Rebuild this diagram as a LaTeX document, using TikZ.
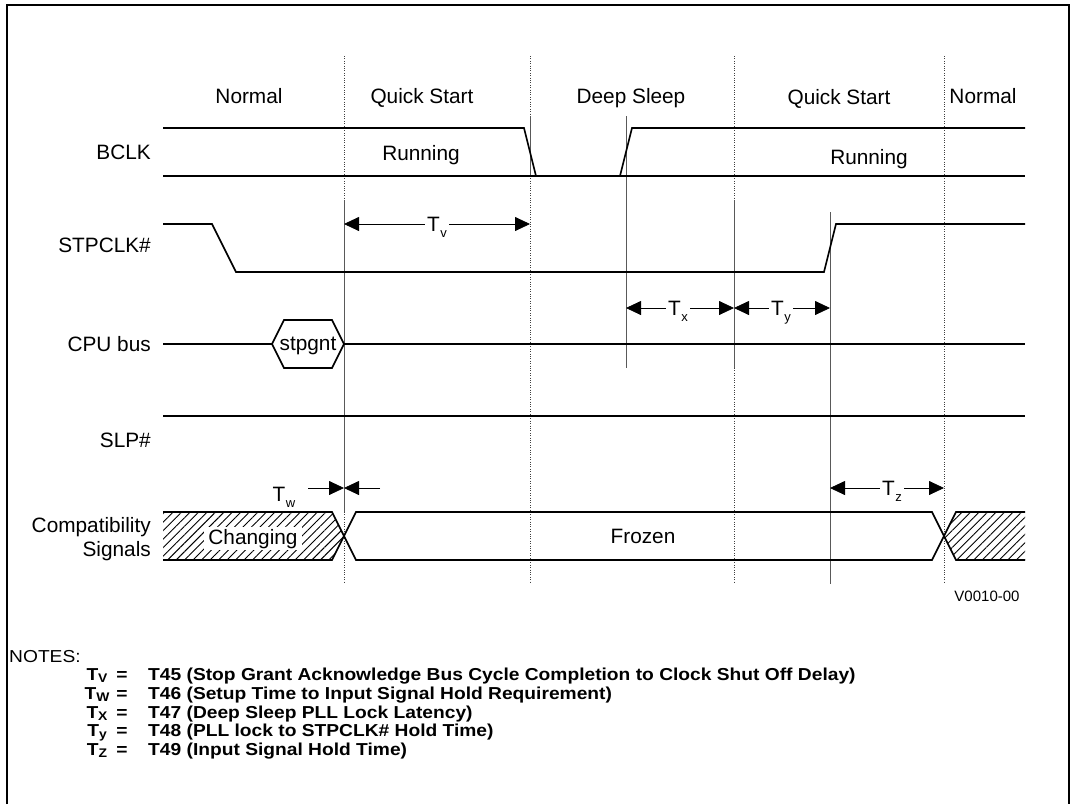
\documentclass[tikz,border=0pt]{standalone}
\usepackage{fontspec}
\setmainfont{Liberation Sans}
\newfontfamily\notesfont[FakeStretch=1.11]{Liberation Sans}
\usetikzlibrary{arrows.meta,patterns.meta}
\newcommand\Tsub[1]{T\kern0.5pt\raisebox{-6pt}{\fontsize{13}{13}\selectfont #1}}
\newcommand\Nsub[1]{T\raisebox{-2pt}{\fontsize{12.5}{13}\selectfont #1}}
\begin{document}
\begin{tikzpicture}[x=1pt,y=-1pt,
  lbl/.style={font=\fontsize{20.8}{25}\selectfont, inner sep=0pt},
  sig/.style={line width=1.6pt, line join=miter},
  guide/.style={draw=black!75, line width=0.9pt, dash pattern=on 1pt off 1.4pt},
  marker/.style={draw=black!65, line width=0.9pt},
  dim/.style={line width=0.8pt, {Triangle[length=15pt,width=14pt]}-{Triangle[length=15pt,width=14pt]}},
  dimto/.style={line width=0.8pt, -{Triangle[length=15pt,width=14pt]}},
  hatch/.style={pattern={Lines[angle=45,distance=6pt,line width=0.9pt]}},
  tlab/.style={lbl, fill=white, inner xsep=2pt, inner ysep=1pt},
  note/.style={font=\notesfont\fontsize{17.3}{20}\selectfont, inner sep=0pt, anchor=base west},
  noteb/.style={note, font=\notesfont\bfseries\fontsize{17.3}{20}\selectfont},
]
\useasboundingbox (0,0) rectangle (1074,804);
\fill[white] (0,0) rectangle (1074,804);
% frame
\draw[line width=2pt] (7,804) -- (7,5) -- (1069,5) -- (1069,804);

% hatched regions
\fill[hatch] (163,512) -- (332,512) -- (344,536) -- (332,560) -- (163,560) -- cycle;
\fill[hatch] (944,536) -- (956,512) -- (1025,512) -- (1025,560) -- (956,560) -- cycle;

% guide lines (dotted)
\foreach \gx in {344,530,734,944} \draw[guide] (\gx,56) -- (\gx,583);
% solid markers
\draw[marker] (344,200) -- (344,512);
\draw[marker] (530,116) -- (530,176);
\draw[marker] (626,116) -- (626,368);
\draw[marker] (734,200) -- (734,368);
\draw[marker] (830,212) -- (830,584);

% phase labels
\node[lbl, anchor=base] (ph1) at (249,103) {Normal};
\node[lbl, anchor=base] (ph2) at (422,103) {Quick Start};
\node[lbl, anchor=base] (ph3) at (631,103) {Deep Sleep};
\node[lbl, anchor=base] (ph4) at (839,104) {Quick Start};
\node[lbl, anchor=base] (ph5) at (983,103) {Normal};

% signal names
\node[lbl, anchor=base east] (sBCLK) at (151,159.5) {BCLK};
\node[lbl, anchor=base east] (sSTP) at (151,252) {STPCLK\#};
\node[lbl, anchor=base east] (sCPU) at (151,351) {CPU bus};
\node[lbl, anchor=base east] (sSLP) at (151,447) {SLP\#};
\node[lbl, anchor=base east] (sCMP) at (151,532) {Compatibility};
\node[lbl, anchor=base east] (sSIG) at (151,556) {Signals};

% BCLK
\draw[sig] (163,128) -- (524,128) -- (536,176);
\draw[sig] (620,176) -- (632,128) -- (1025,128);
\draw[sig] (163,176) -- (1025,176);
\node[lbl, anchor=base] (run1) at (421,160) {Running};
\node[lbl, anchor=base] (run2) at (869,164) {Running};

% STPCLK#
\draw[sig] (163,224) -- (212,224) -- (236,272) -- (824,272) -- (836,224) -- (1025,224);

% CPU bus
\draw[sig] (163,344) -- (272,344);
\draw[sig] (272,344) -- (284,320) -- (332,320) -- (344,344) -- (332,368) -- (284,368) -- cycle;
\draw[sig] (344,344) -- (1025,344);
\node[lbl, anchor=base] (stp) at (308,350) {stpgnt};

% SLP#
\draw[sig] (163,416) -- (1025,416);

% Compatibility signals
\draw[sig] (163,512) -- (332,512) -- (356,560) -- (932,560) -- (956,512) -- (1025,512);
\draw[sig] (163,560) -- (332,560) -- (356,512) -- (932,512) -- (956,560) -- (1025,560);
\node[lbl, anchor=base, fill=white, inner xsep=4pt, inner ysep=1.5pt] (chg) at (253,544) {Changing};
\node[lbl, anchor=base] (frz) at (643,543) {Frozen};

% dimension arrows
\coordinate (v1) at (344,224); \coordinate (v2) at (530,224);
\coordinate (x1) at (626,308); \coordinate (x2) at (734,308); \coordinate (y2) at (830,308);
\coordinate (w0) at (344,488); \coordinate (wl) at (308,488); \coordinate (wr) at (380,488);
\coordinate (z1) at (830,488); \coordinate (z2) at (944,488);
\draw[dim] (v1) -- (v2);
\draw[dim] (x1) -- (x2);
\draw[dim] (x2) -- (y2);
\draw[dim] (z1) -- (z2);
\draw[dimto] (wl) -- (w0);
\draw[dimto] (wr) -- (w0);
\node[tlab, anchor=base] (Tv) at (437,231) {\Tsub{v}};
\node[tlab, anchor=base] (Tx) at (678,315) {\Tsub{x}};
\node[tlab, anchor=base] (Ty) at (781,315) {\Tsub{y}};
\node[tlab, anchor=base] (Tz) at (892,495) {\Tsub{z}};
\node[lbl, anchor=base] (Tw) at (284,501) {\Tsub{w}};

\node[anchor=base, inner sep=0pt, font=\fontsize{15}{18}\selectfont] (ver) at (987,601) {V0010-00};

% notes
\node[note] (notes) at (9,662) {NOTES:};
\foreach \yy/\sb/\txt [count=\i] in {680/V/{T45 (Stop Grant Acknowledge Bus Cycle Completion to Clock Shut Off Delay)},
  699/W/{T46 (Setup Time to Input Signal Hold Requirement)},
  718/X/{T47 (Deep Sleep PLL Lock Latency)},
  736/y/{T48 (PLL lock to STPCLK\# Hold Time)},
  755/Z/{T49 (Input Signal Hold Time)}}{
  \node[noteb, anchor=base] (nk\i) at (97,\yy) {\Nsub{\sb}};
  \node[noteb, anchor=base] (ne\i) at (122,\yy) {=};
  \node[noteb] (nd\i) at (148,\yy) {\txt};
}
\end{tikzpicture}
\end{document}
